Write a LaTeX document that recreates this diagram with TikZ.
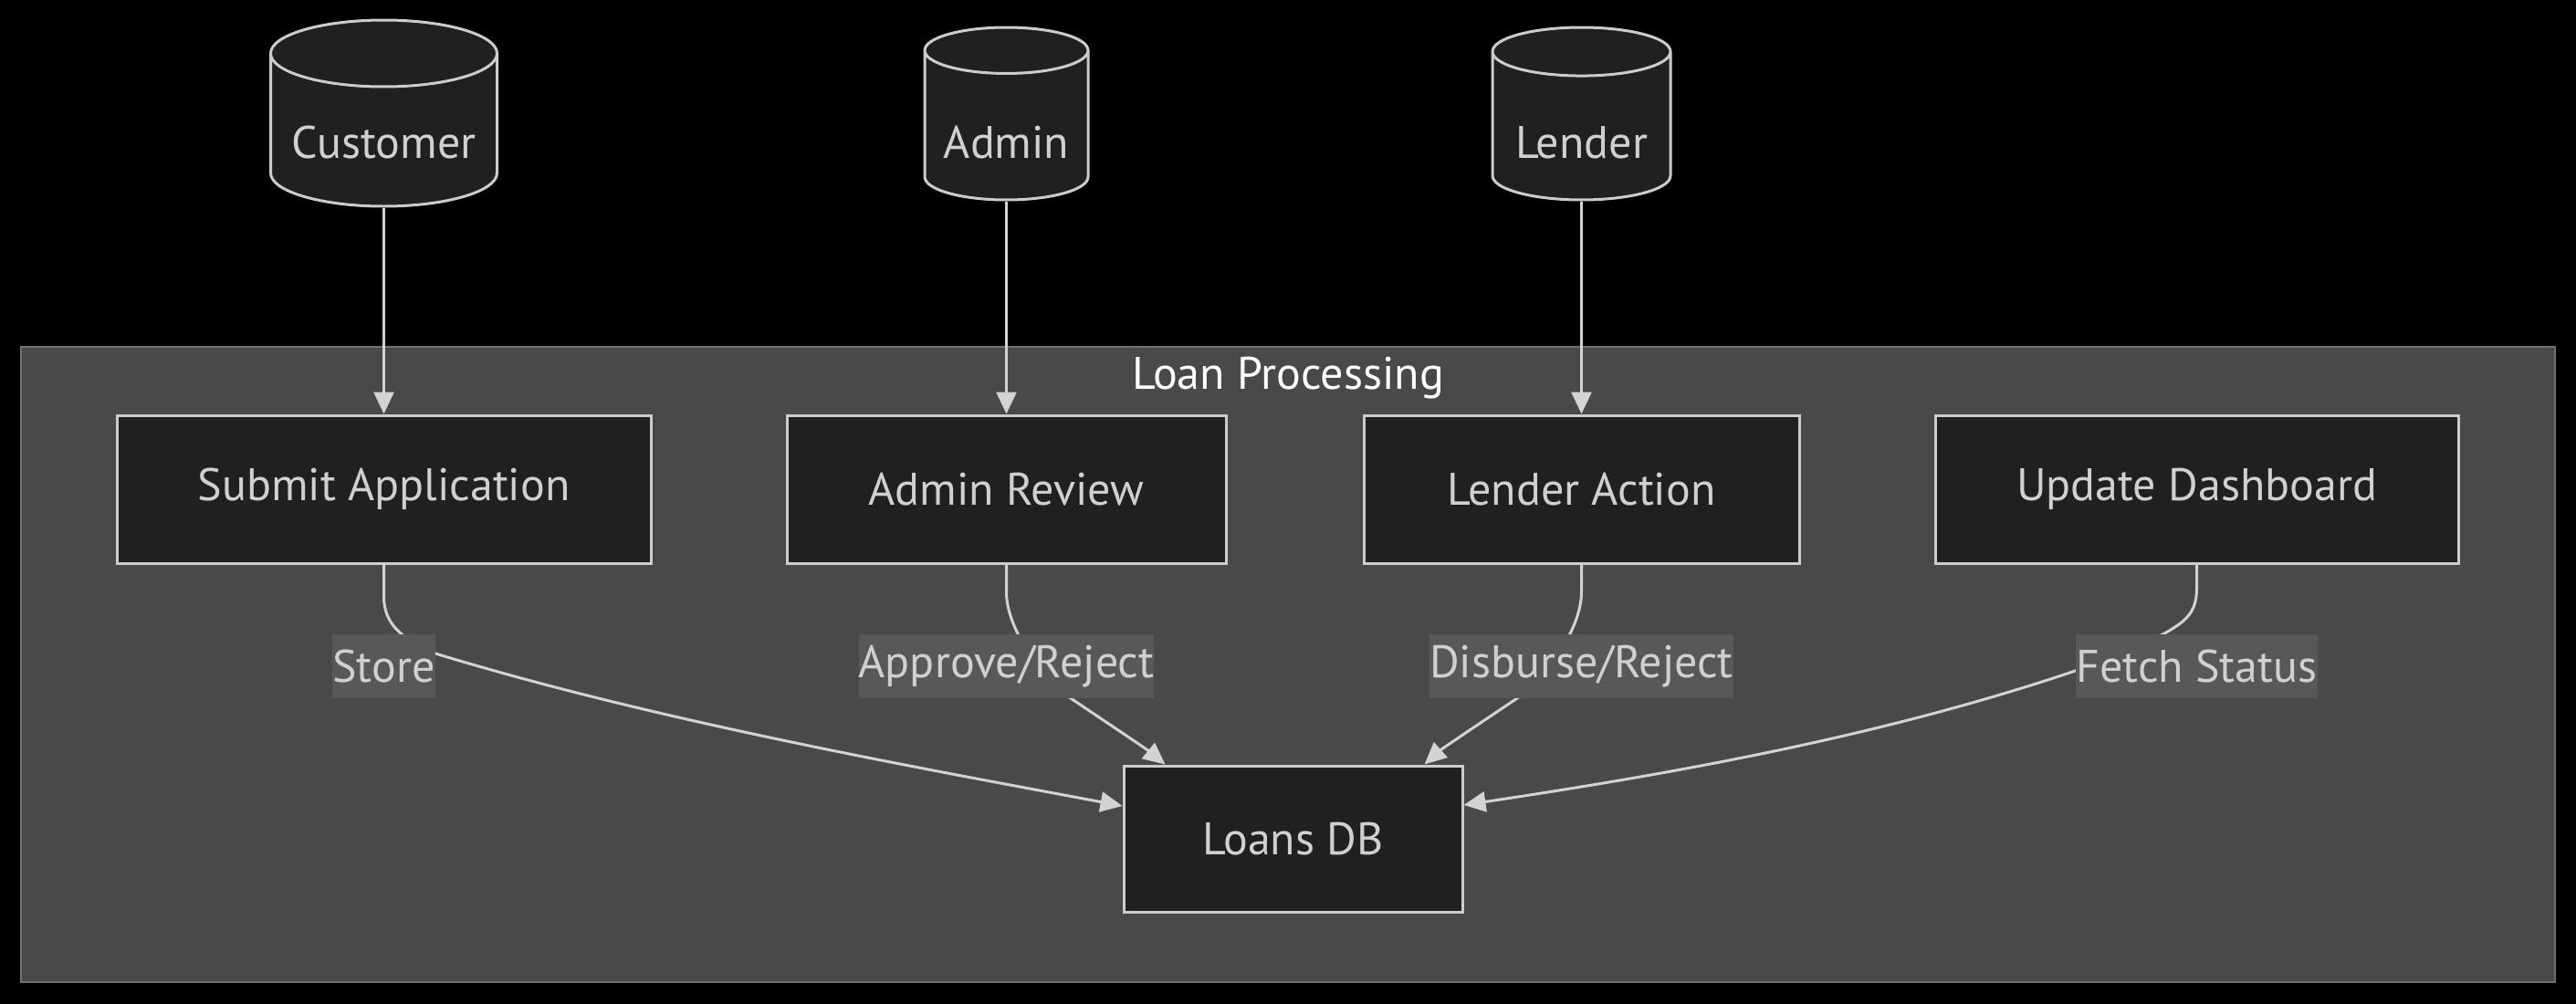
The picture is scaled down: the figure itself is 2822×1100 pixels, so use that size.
\documentclass[tikz,border=0pt]{standalone}
\usepackage{fontspec}
\setmainfont{PT Sans}
\usetikzlibrary{positioning, arrows.meta, shapes.geometric}

\definecolor{canvasbg}{HTML}{000000}
\definecolor{clusterbg}{HTML}{484948}
\definecolor{clusterline}{HTML}{707070}
\definecolor{nodebg}{HTML}{1F2020}
\definecolor{nodeline}{HTML}{CCCCCC}
\definecolor{nodetext}{HTML}{D0D0D0}
\definecolor{labelbg}{HTML}{585858}
\definecolor{edgeline}{HTML}{D3D3D3}

\begin{document}
\begin{tikzpicture}[
    x=1pt, y=1pt,
    every node/.style={font=\fontsize{50}{60}\selectfont, text=nodetext},
    box/.style={draw=nodeline, fill=nodebg, line width=3pt, minimum height=162pt},
    actor/.style={cylinder, shape border rotate=90, draw=nodeline, fill=nodebg, line width=3pt, aspect=0.35, text depth=12pt},
    edgelabel/.style={fill=labelbg, inner xsep=0pt, inner ysep=0pt, minimum height=70pt},
    flow/.style={draw=edgeline, line width=3pt, -{Triangle[width=22pt,length=24pt]}}
]

% Canvas and cluster
\fill[canvasbg] (0,0) rectangle (2822,-1100);
\useasboundingbox (0,0) rectangle (2822,-1100);
\draw[fill=clusterbg, draw=clusterline, line width=2pt] (23,-380) rectangle (2799,-1076);
\node[text=white] (clustertitle) at (1411,-414) {Loan Processing};

% Nodes
\node[box, minimum width=585pt] (submit) at (420.5,-536) {Submit Application};
\node[box, minimum width=481pt] (review) at (1102.5,-536) {Admin Review};
\node[box, minimum width=477pt] (action) at (1732.5,-536) {Lender Action};
\node[box, minimum width=573pt] (dash) at (2406.5,-536) {Update Dashboard};
\node[box, minimum width=371pt, minimum height=160pt] (db) at (1416.5,-919) {Loans DB};

\node[actor, minimum width=248pt, minimum height=204pt, text height=64pt, above=226pt of submit] (customer) {Customer};
\node[actor, minimum width=179pt, minimum height=189pt, text height=76pt, above=233pt of review] (admin) {Admin};
\node[actor, minimum width=195pt, minimum height=189pt, text height=76pt, above=233pt of action] (lender) {Lender};

% Paths
\draw[flow] (customer) -- (submit);
\draw[flow] (admin) -- (review);
\draw[flow] (lender) -- (action);

\draw[flow] (submit.south) -- ++(0,-35) .. controls +(0,-30) and (440,-700) .. (477,-716)
    .. controls (720,-790) and (1000,-840) .. ([yshift=36pt]db.west);
\draw[flow] (review.south) -- ++(0,-30) .. controls +(0,-40) and (1140,-740) .. (1170,-763)
    .. controls (1210,-790) and (1255,-820) .. ([xshift=47pt]db.north west);
\draw[flow] (action.south) -- ++(0,-30) .. controls +(0,-40) and (1695,-740) .. (1665,-763)
    .. controls (1625,-790) and (1580,-820) .. ([xshift=-43pt]db.north east);
\draw[flow] (dash.south) -- ++(0,-25) .. controls +(0,-35) and (2390,-685) .. (2330,-715)
    .. controls (2100,-800) and (1850,-845) .. ([yshift=37pt]db.east);

% Edge labels
\node[edgelabel, below=76pt of submit] (storelbl) {Store};
\node[edgelabel, below=76pt of review] (approvelbl) {Approve/Reject};
\node[edgelabel, below=76pt of action] (disburselbl) {Disburse/Reject};
\node[edgelabel, below=76pt of dash] (fetchlbl) {Fetch Status};

\end{tikzpicture}
\end{document}
